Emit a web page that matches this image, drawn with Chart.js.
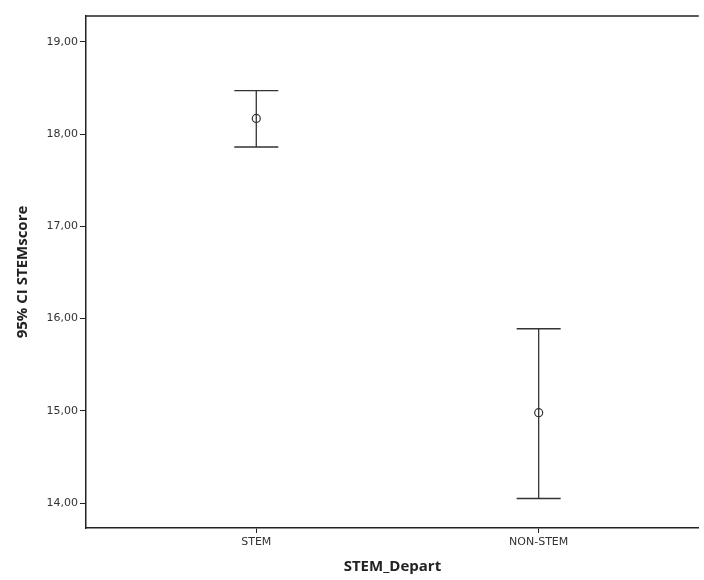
<!DOCTYPE html>
<html>
<head>
  <meta charset="UTF-8" />
  <title>95% CI STEMscore by STEM_Depart</title>
  <script src="https://cdn.jsdelivr.net/npm/chart.js"></script>
  <style>
    body { margin: 0; background: #fff; }
    #wrap { width: 704px; height: 580px; }
  </style>
</head>
<body>
<div id="wrap"><canvas id="ciChart" width="704" height="580"></canvas></div>
<script>
  // data
  const groups = ['STEM', 'NON-STEM'];
  const groupPos = [1, 2];
  const means = [18.17, 14.98];
  const lower = [17.86, 14.05];
  const upper = [18.47, 15.89];
  const yTicks = [14, 15, 16, 17, 18, 19];

  const errorBars = {
    id: 'errorBars',
    afterDatasetsDraw(chart) {
      const { ctx, scales: { x, y }, chartArea } = chart;
      ctx.save();
      // top frame line
      ctx.strokeStyle = '#222';
      ctx.lineWidth = 1.5;
      ctx.beginPath();
      ctx.moveTo(chartArea.left, chartArea.top);
      ctx.lineTo(chartArea.right, chartArea.top);
      ctx.stroke();

      ctx.strokeStyle = '#333';
      ctx.lineWidth = 1.3;
      groups.forEach((g, i) => {
        const px = x.getPixelForValue(groupPos[i]);
        const top = y.getPixelForValue(upper[i]);
        const bot = y.getPixelForValue(lower[i]);
        ctx.beginPath();
        ctx.moveTo(px, top); ctx.lineTo(px, bot);
        ctx.moveTo(px - 22, top); ctx.lineTo(px + 22, top);
        ctx.moveTo(px - 22, bot); ctx.lineTo(px + 22, bot);
        ctx.stroke();
      });
      ctx.restore();
    }
  };

  new Chart(document.getElementById('ciChart'), {
    type: 'scatter',
    data: {
      datasets: [{
        data: groups.map((g, i) => ({ x: groupPos[i], y: means[i] })),
        pointRadius: 4,
        pointBorderWidth: 1.2,
        pointBorderColor: '#333',
        pointBackgroundColor: 'rgba(255,255,255,0.9)'
      }]
    },
    options: {
      responsive: false,
      animation: false,
      layout: { padding: { top: 16, right: 0, left: 0, bottom: 0 } },
      plugins: { legend: { display: false }, tooltip: { enabled: false } },
      scales: {
        x: {
          type: 'linear',
          min: 0.397,
          max: 2.567,
          afterBuildTicks: s => { s.ticks = groupPos.map(v => ({ value: v })); },
          afterFit: s => { s.height = 52; },
          grid: { display: true, drawOnChartArea: false, drawTicks: true, tickLength: 5, color: '#222' },
          border: { display: true, color: '#222', width: 1.5 },
          ticks: {
            callback: v => groups[groupPos.indexOf(v)] || '',
            color: '#333',
            padding: 3,
            maxRotation: 0,
            font: { family: 'DejaVu Sans', size: 11 }
          },
          title: {
            display: true,
            text: 'STEM_Depart',
            color: '#222',
            padding: { top: 7 },
            font: { family: 'Open Sans', size: 15, weight: 'bold' }
          }
        },
        y: {
          min: 13.73,
          max: 19.28,
          afterBuildTicks: s => { s.ticks = yTicks.map(v => ({ value: v })); },
          afterFit: s => { s.width = 86; },
          grid: { display: true, drawOnChartArea: false, drawTicks: true, tickLength: 6, color: '#222' },
          border: { display: true, color: '#222', width: 1.5 },
          ticks: {
            callback: v => v.toFixed(2).replace('.', ','),
            color: '#333',
            padding: 2,
            font: { family: 'DejaVu Sans', size: 11 }
          },
          title: {
            display: true,
            text: '95% CI STEMscore',
            color: '#222',
            padding: { top: 14, bottom: 0 },
            font: { family: 'Open Sans', size: 15, weight: 'bold' }
          }
        }
      }
    },
    plugins: [errorBars]
  });
</script>
</body>
</html>
